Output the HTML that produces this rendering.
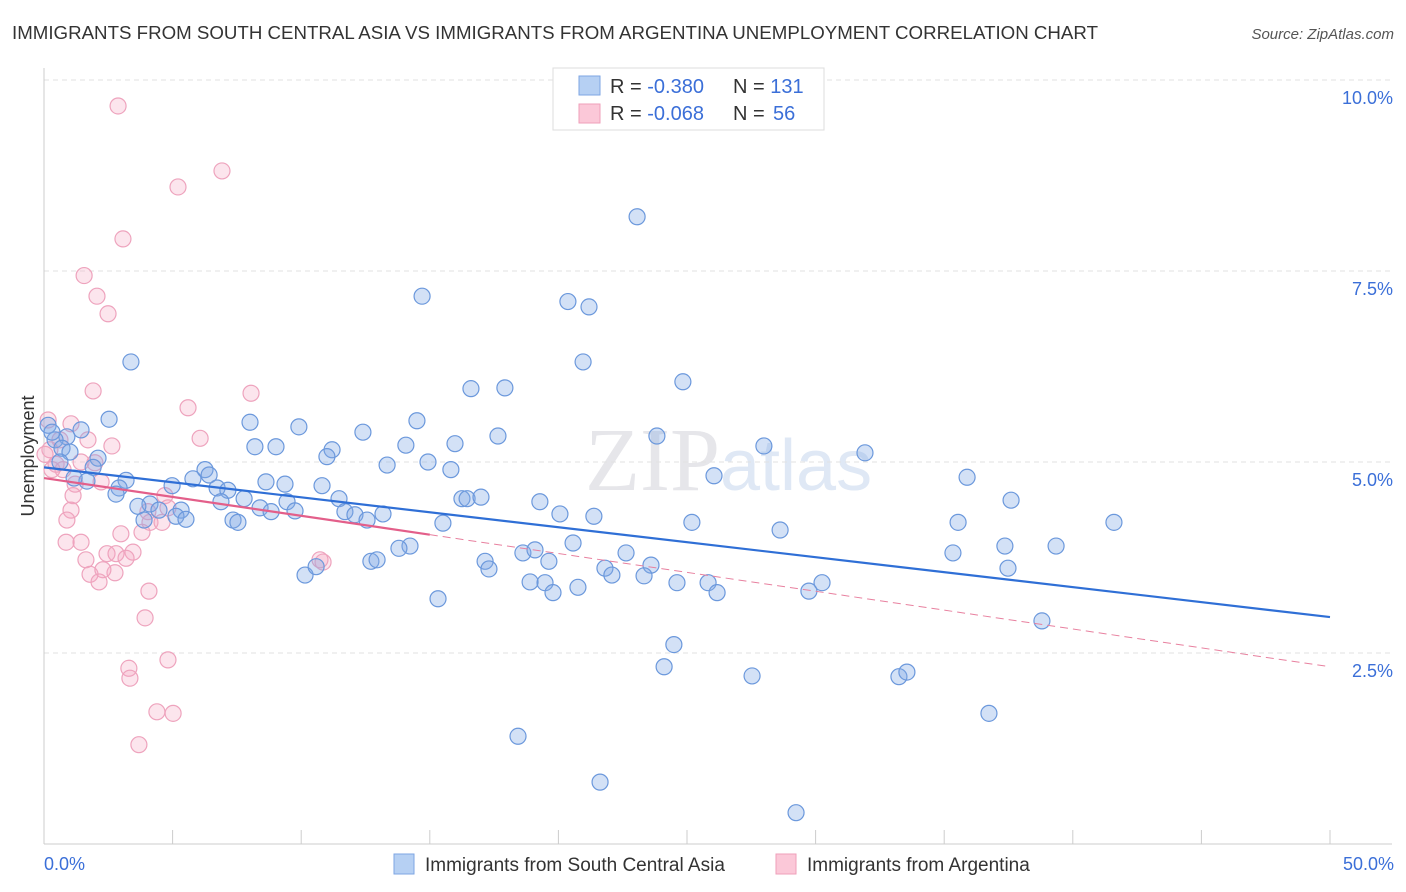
<!DOCTYPE html>
<html><head><meta charset="utf-8"><style>
body{margin:0;background:#fff;font-family:"Liberation Sans",sans-serif;}
svg{display:block}
</style></head><body>
<svg id="chart" width="1406" height="892" xmlns="http://www.w3.org/2000/svg" font-family="Liberation Sans, sans-serif">
<text x="12" y="39" font-size="18" fill="#333" textLength="1086" lengthAdjust="spacingAndGlyphs">IMMIGRANTS FROM SOUTH CENTRAL ASIA VS IMMIGRANTS FROM ARGENTINA UNEMPLOYMENT CORRELATION CHART</text>
<text x="1394" y="39" font-size="15" fill="#555" text-anchor="end" font-style="italic">Source: ZipAtlas.com</text>
<text x="720" y="490" font-size="90" fill="#e6e6ea" text-anchor="end" font-family="Liberation Serif, serif">ZIP</text>
<text x="720" y="490" font-size="72" fill="#dfe8f5">atlas</text>
<g id="grid"></g>
<g id="axes"></g>
<g id="pts"></g>
<g id="trend"></g>
<text x="34" y="456" font-size="18" fill="#333" text-anchor="middle" transform="rotate(-90 34 456)">Unemployment</text>
<text x="44" y="870" font-size="18" fill="#3b6fd8">0.0%</text>
<text x="1394" y="870" font-size="18" fill="#3b6fd8" text-anchor="end">50.0%</text>
<g>
<rect x="553" y="68" width="271" height="62" fill="#fff" stroke="#ddd"/>
<rect x="579" y="76" width="21" height="19" fill="#b6d0f3" stroke="#7ea6e3"/>
<rect x="579" y="104" width="21" height="19" fill="#fbc8d8" stroke="#ef9fba"/>
<text x="610" y="93" font-size="20" fill="#333">R = <tspan fill="#3b6fd8">-0.380</tspan><tspan x="733">N = </tspan><tspan fill="#3b6fd8">131</tspan></text>
<text x="610" y="120" font-size="20" fill="#333">R = <tspan fill="#3b6fd8">-0.068</tspan><tspan x="733">N = </tspan><tspan fill="#3b6fd8" x="773">56</tspan></text>
</g>
<g>
<rect x="394" y="854" width="20" height="20" fill="#b6d0f3" stroke="#7ea6e3"/>
<text x="425" y="871" font-size="19" fill="#333">Immigrants from South Central Asia</text>
<rect x="776" y="854" width="20" height="20" fill="#fbc8d8" stroke="#ef9fba"/>
<text x="807" y="871" font-size="19" fill="#333">Immigrants from Argentina</text>
</g>
</svg>
<script>
const yTicks=[2.5,5,7.5,10];
const yTickLabels=["2.5%","5.0%","7.5%","10.0%"];
const xTicks=[0,5,10,15,20,25,30,35,40,45,50];
const blueX=[23.06,14.70,20.37,21.19,3.38,20.96,24.84,16.60,17.92,2.53,8.01,14.50,9.91,12.40,1.44,17.65,23.83,0.89,14.07,15.98,8.20,9.02,11.20,27.99,31.92,11.00,2.10,14.93,13.34,15.82,1.91,6.26,6.42,26.05,35.89,3.19,5.79,8.63,9.37,4.98,10.81,1.67,2.92,6.73,7.15,2.80,7.78,16.25,16.45,16.99,11.47,9.45,6.88,37.60,4.12,3.65,4.47,5.33,8.40,8.83,9.76,19.28,11.70,12.09,20.06,21.38,13.18,3.89,5.13,5.52,7.35,7.54,12.56,15.51,25.19,35.54,41.60,28.62,20.57,14.23,13.80,18.62,19.09,37.36,39.35,22.63,35.34,12.71,12.95,17.15,19.63,17.30,23.60,21.81,22.08,37.48,10.15,10.58,23.33,18.90,19.48,25.82,30.25,24.61,20.76,19.79,26.17,29.74,15.32,38.80,24.49,24.11,27.53,33.24,33.55,36.74,18.43,21.62,29.24,0.16,0.43,0.70,1.01,0.31,1.17,0.62];
const blueY=[8.21,7.17,7.10,7.03,6.31,6.31,6.05,5.96,5.97,5.56,5.52,5.54,5.46,5.39,5.42,5.34,5.34,5.33,5.22,5.24,5.20,5.20,5.16,5.21,5.12,5.07,5.05,5.00,4.96,4.90,4.93,4.90,4.83,4.82,4.80,4.76,4.78,4.74,4.71,4.69,4.69,4.75,4.66,4.66,4.63,4.58,4.52,4.52,4.52,4.54,4.52,4.48,4.48,4.50,4.45,4.42,4.37,4.37,4.40,4.35,4.36,4.48,4.35,4.31,4.32,4.29,4.32,4.24,4.29,4.25,4.24,4.21,4.24,4.20,4.21,4.21,4.21,4.11,3.94,3.90,3.87,3.81,3.85,3.90,3.90,3.81,3.81,3.70,3.72,3.70,3.70,3.60,3.65,3.61,3.52,3.61,3.52,3.63,3.51,3.43,3.42,3.42,3.42,3.42,3.36,3.29,3.29,3.31,3.21,2.92,2.61,2.32,2.20,2.19,2.25,1.71,1.41,0.81,0.41,5.48,5.29,5.18,5.13,5.39,4.79,5.00];
const pinkX=[2.88,6.92,5.21,3.07,1.56,2.06,2.49,1.91,8.05,5.60,0.16,1.05,6.07,1.71,2.64,0.23,1.44,0.47,1.98,0.74,0.31,2.22,1.21,1.13,4.70,4.82,1.05,4.04,0.89,4.12,4.59,3.81,2.99,0.86,1.44,2.45,2.80,3.46,1.63,3.19,10.85,1.79,2.76,2.29,2.14,4.08,3.93,3.30,3.34,4.82,4.39,5.02,3.69,10.73,0.62,0.04];
const pinkY=[9.66,8.81,8.60,7.92,7.44,7.17,6.94,5.93,5.90,5.71,5.55,5.50,5.31,5.29,5.21,5.16,5.00,4.97,4.99,4.90,4.90,4.74,4.71,4.56,4.56,4.40,4.37,4.35,4.24,4.21,4.21,4.08,4.06,3.95,3.95,3.80,3.80,3.82,3.72,3.74,3.69,3.53,3.55,3.59,3.43,3.31,2.96,2.30,2.17,2.41,1.73,1.71,1.30,3.72,5.29,5.10];
const blueTrend=[4.93,2.97];
const pinkTrend=[4.79,2.32];
const pinkSolidEnd=15;

const X0=44,X1=1330,Y0=844,PXY=76.4;
const sx=v=>X0+(X1-X0)*v/50;
const sy=v=>Y0-v*PXY;
const NS="http://www.w3.org/2000/svg";
function mk(tag,attrs,parent){const e=document.createElementNS(NS,tag);for(const k in attrs)e.setAttribute(k,attrs[k]);document.getElementById(parent).appendChild(e);return e;}

yTicks.forEach((t,i)=>{
  const l=mk('line',{x1:X0,x2:1392,y1:sy(t),y2:sy(t),stroke:'#e2e2e2','stroke-dasharray':'5,4'},'grid');
  
  
  const tx=mk('text',{x:1393,y:sy(t)+24,'font-size':18,fill:'#3b6fd8','text-anchor':'end'},'grid');
  tx.textContent=yTickLabels[i];
  
  
});
const ya=mk('line',{x1:X0,x2:X0,y1:68,y2:Y0,stroke:'#ccc'},'axes');


const xa=mk('line',{x1:X0,x2:1392,y1:Y0,y2:Y0,stroke:'#ccc'},'axes');


xTicks.forEach(t=>{
  const l=mk('line',{x1:sx(t),x2:sx(t),y1:Y0-14,y2:Y0,stroke:'#ccc'},'axes');
  
  
});
pinkX.forEach((x,i)=>{
  const c=mk('circle',{cx:sx(x),cy:sy(pinkY[i]),r:8,fill:'rgba(246,170,196,0.3)',stroke:'#eea3bd','stroke-width':1.2},'pts');
  
  
});
blueX.forEach((x,i)=>{
  const c=mk('circle',{cx:sx(x),cy:sy(blueY[i]),r:8,fill:'rgba(130,170,230,0.35)',stroke:'#6b98dc','stroke-width':1.2},'pts');
  
  
});
const pAt=x=>pinkTrend[0]+(pinkTrend[1]-pinkTrend[0])*x/50;
const bl=mk('line',{x1:sx(0),y1:sy(blueTrend[0]),x2:sx(50),y2:sy(blueTrend[1]),stroke:'#2f6fd6','stroke-width':2.2},'trend');


const pd=mk('line',{x1:sx(pinkSolidEnd),y1:sy(pAt(pinkSolidEnd)),x2:sx(50),y2:sy(pinkTrend[1]),stroke:'#e8809f','stroke-width':1,'stroke-dasharray':'8,5'},'trend');


const ps=mk('line',{x1:sx(0),y1:sy(pinkTrend[0]),x2:sx(pinkSolidEnd),y2:sy(pAt(pinkSolidEnd)),stroke:'#e35f8a','stroke-width':2.2},'trend');


</script>
</body></html>
